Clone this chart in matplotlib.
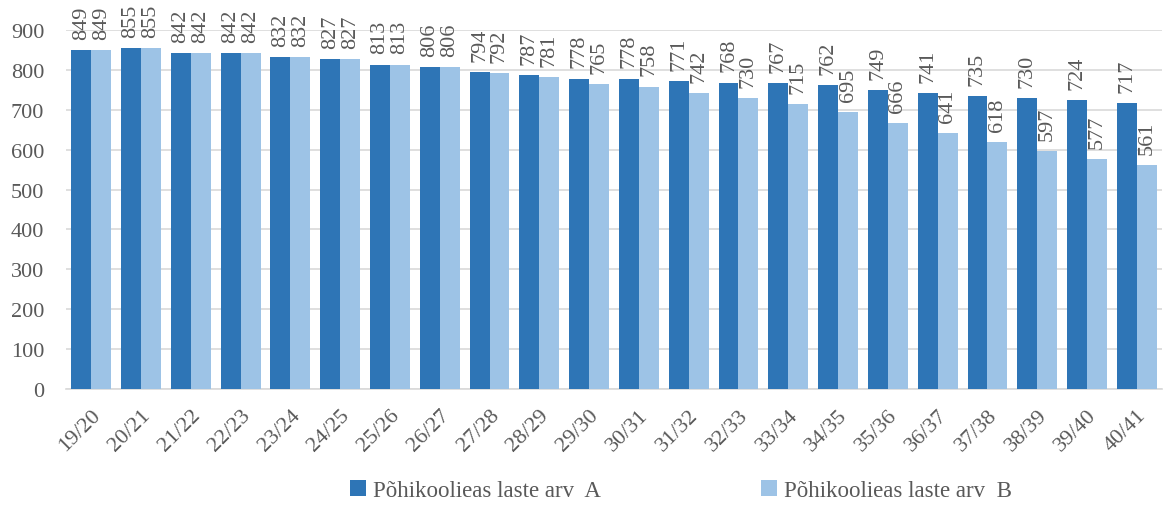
import numpy as np
import matplotlib.pyplot as plt

years = ['19/20', '20/21', '21/22', '22/23', '23/24', '24/25', '25/26', '26/27',
         '27/28', '28/29', '29/30', '30/31', '31/32', '32/33', '33/34', '34/35',
         '35/36', '36/37', '37/38', '38/39', '39/40', '40/41']
arv_a = [849, 855, 842, 842, 832, 827, 813, 806, 794, 787, 778, 778, 771, 768,
         767, 762, 749, 741, 735, 730, 724, 717]
arv_b = [849, 855, 842, 842, 832, 827, 813, 806, 792, 781, 765, 758, 742, 730,
         715, 695, 666, 641, 618, 597, 577, 561]

plt.rcParams['font.family'] = ['Liberation Serif', 'DejaVu Serif']
grey = '#595959'
fs = 16

fig = plt.figure(figsize=(11.64, 5.06), dpi=100)
ax = fig.add_axes([0.057, 0.229, 0.941, 0.710])

x = np.arange(len(years))
w = 0.4
bars_a = ax.bar(x - w / 2, arv_a, w, color='#2E75B6', label='Põhikoolieas laste arv  A', zorder=3)
bars_b = ax.bar(x + w / 2, arv_b, w, color='#9DC3E6', label='Põhikoolieas laste arv  B', zorder=3)

# value labels standing upright above each bar
for bars in (bars_a, bars_b):
    for b in bars:
        h = b.get_height()
        ax.annotate(f'{h:.0f}', (b.get_x() + b.get_width() / 2, h),
                    xytext=(0, 8), textcoords='offset points', rotation=90,
                    ha='center', va='bottom', fontsize=fs, color=grey,
                    annotation_clip=False)

ax.set_xlim(-0.5, len(years) - 0.5)
ax.set_ylim(0, 900)
ax.set_yticks(range(0, 901, 100))
ax.grid(axis='y', color='#D9D9D9', linewidth=1.2, zorder=0)
for s in ['top', 'right', 'left']:
    ax.spines[s].set_visible(False)
ax.spines['bottom'].set_color('#D9D9D9')
ax.spines['bottom'].set_linewidth(1.2)
ax.tick_params(axis='y', length=0, labelsize=fs, colors=grey, pad=16)
ax.tick_params(axis='x', length=0, labelsize=fs, colors=grey, pad=12)
ax.set_xticks(x)
ax.set_xticklabels(years, rotation=45, ha='right', va='top', rotation_mode='anchor')

fig.legend(loc='center', bbox_to_anchor=(0.585, 0.028), ncol=2, frameon=False,
           fontsize=fs + 0.5, labelcolor=grey, columnspacing=7, handlelength=0.7,
           handleheight=0.7, handletextpad=0.3)

fig.savefig('out.png', dpi=100)
